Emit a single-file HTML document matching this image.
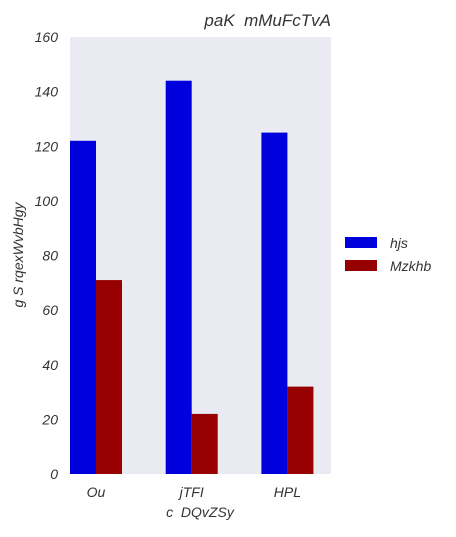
<!DOCTYPE html>
<html><head><meta charset="utf-8"><style>
body{margin:0;background:#fff;width:456px;height:532px;overflow:hidden}
text{font-family:"Liberation Sans",sans-serif;font-style:italic;fill:#333;white-space:pre}
</style></head><body>
<svg id="chart" width="456" height="532">
<rect x="70" y="37" width="261" height="437" fill="#eaeaf2"/>
<text x="331" y="26" text-anchor="end" font-size="17">paK  mMuFcTvA</text>
<text x="200" y="517" text-anchor="middle" font-size="14">c  DQvZSy</text>
<text transform="translate(23,255) rotate(-90)" text-anchor="middle" font-size="14">g S rqexWvbHgy</text>
<g id="bars"></g><g id="yticks"></g><g id="xticks"></g>
<g>
<rect x="345" y="237" width="32" height="11" fill="#0000dd"/>
<text x="390" y="248" font-size="14">hjs</text>
<rect x="345" y="260" width="32" height="11" fill="#960000"/>
<text x="390" y="271" font-size="14">Mzkhb</text>
</g>
</svg>
<script>
const categories=["Ou","jTFI","HPL"];
const seriesHjs=[122,144,125];
const seriesMzkhb=[71,22,32];
const yTicks=[0,20,40,60,80,100,120,140,160];
const NS="http://www.w3.org/2000/svg";
const y=v=>474-v*(437/160);
const xc=i=>96+i*95.7;
const bw=26;
function mk(t,a,p){const e=document.createElementNS(NS,t);for(const k in a)e.setAttribute(k,a[k]);p.appendChild(e);return e;}
const bars=document.getElementById('bars');
categories.forEach((c,i)=>{
  const b=mk('rect',{x:xc(i)-bw,y:y(seriesHjs[i]),width:bw,height:y(0)-y(seriesHjs[i]),fill:'#0000dd'},bars);
  
  
  const r=mk('rect',{x:xc(i),y:y(seriesMzkhb[i]),width:bw,height:y(0)-y(seriesMzkhb[i]),fill:'#960000'},bars);
  
  
  const t=mk('text',{x:xc(i),y:497,'text-anchor':'middle','font-size':14},document.getElementById('xticks'));
  t.textContent=c;
  
  
});
yTicks.forEach(v=>{
  const t=mk('text',{x:58,y:y(v)+5,'text-anchor':'end','font-size':14},document.getElementById('yticks'));
  t.textContent=v;
  
  
});
</script>
</body></html>
